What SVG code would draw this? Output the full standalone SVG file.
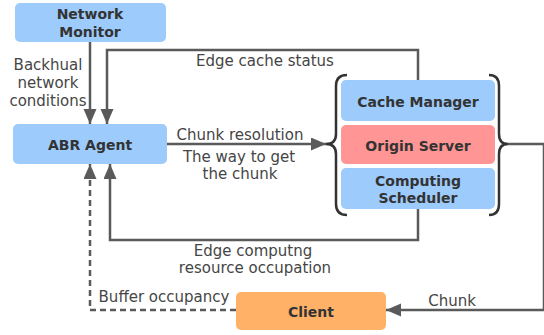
<svg xmlns="http://www.w3.org/2000/svg" width="544" height="335" viewBox="0 0 544 335">
<style>
.box{stroke:none}
.blue{fill:#9ccbfc}
.red{fill:#ff9595}
.orange{fill:#ffb267}
.bl{font-family:"DejaVu Sans","Liberation Sans",sans-serif;font-weight:bold;font-size:14px;fill:#333;text-anchor:middle}
.lb{font-family:"DejaVu Sans","Liberation Sans",sans-serif;font-size:15px;fill:#454545;text-anchor:middle}
.ln{fill:none;stroke:#5a5a5a;stroke-width:2.5}
.dash{stroke-dasharray:6 4}
.brace{fill:none;stroke:#333;stroke-width:2.5}
</style>
<defs>
<marker id="ah" markerUnits="userSpaceOnUse" markerWidth="16" markerHeight="14" refX="15" refY="6.5" orient="auto">
<path d="M0,0 L15,6.5 L0,13 Z" fill="#5a5a5a"/>
</marker>
</defs>
<rect width="544" height="335" fill="#fff"/>
<g id="connectors">
<path class="ln" d="M90,42 V124" marker-end="url(#ah)"/>
<path class="ln" d="M418,80 V50 H107 V124" marker-end="url(#ah)"/>
<path class="ln" d="M418,209 V240 H110 V164" marker-end="url(#ah)"/>
<path class="ln dash" d="M236,310 H90 V164" marker-end="url(#ah)"/>
<path class="ln" d="M167,144 H326" marker-end="url(#ah)"/>
<path class="ln" d="M508,144 H544 V310 H386" marker-end="url(#ah)"/>
<text class="lb" x="265" y="66">Edge cache status</text>
<text class="lb" x="48" y="70">Backhual</text>
<text class="lb" x="48" y="88">network</text>
<text class="lb" x="48" y="106">conditions</text>
<text class="lb" x="240" y="140">Chunk resolution</text>
<text class="lb" x="239" y="162">The way to get</text>
<text class="lb" x="240" y="179">the chunk</text>
<text class="lb" x="253" y="256">Edge computng</text>
<text class="lb" x="255" y="273">resource occupation</text>
<text class="lb" x="164" y="302">Buffer occupancy</text>
<text class="lb" x="452" y="306">Chunk</text>
</g>
<g id="network-monitor">
<rect class="box blue" x="15" y="3" width="151" height="39" rx="5"/>
<text class="bl" x="90" y="18.5">Network</text>
<text class="bl" x="90" y="36.5">Monitor</text>
</g>
<g id="abr-agent">
<rect class="box blue" x="13" y="124" width="154" height="40" rx="5"/>
<text class="bl" x="90" y="150">ABR Agent</text>
</g>
<g id="edge-server">
<path class="brace" d="M347,75 Q336,75 336,86 V134 Q336,144 326,144 Q336,144 336,154 V204 Q336,215 347,215"/>
<path class="brace" d="M489,75 Q499,75 499,86 V134 Q499,144 508,144 Q499,144 499,154 V204 Q499,215 489,215"/>
<g id="cache-manager">
<rect class="box blue" x="341" y="80" width="154" height="41" rx="5"/>
<text class="bl" x="418" y="106.5">Cache Manager</text>
</g>
<g id="origin-server">
<rect class="box red" x="341" y="125" width="154" height="39" rx="5"/>
<text class="bl" x="418" y="150.5">Origin Server</text>
</g>
<g id="computing-scheduler">
<rect class="box blue" x="341" y="168" width="154" height="41" rx="5"/>
<text class="bl" x="418" y="186">Computing</text>
<text class="bl" x="418" y="203">Scheduler</text>
</g>
</g>
<g id="client">
<rect class="box orange" x="236" y="292" width="150" height="38" rx="5"/>
<text class="bl" x="311" y="316.5">Client</text>
</g>
</svg>
